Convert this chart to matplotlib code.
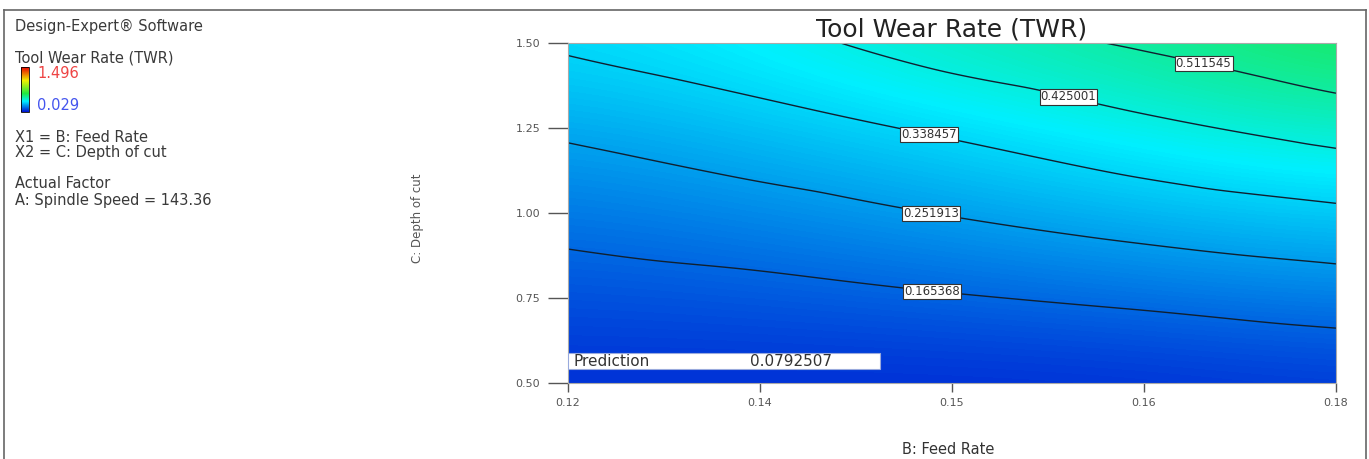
import numpy as np
import matplotlib
matplotlib.use("Agg")
from matplotlib import pyplot as plt
import matplotlib.tri as mtri
from matplotlib.colors import LinearSegmentedColormap, Normalize
from matplotlib.cm import ScalarMappable

plt.rcParams['font.family'] = ['DejaVu Sans']

# design space (B: feed rate, C: depth of cut) and TWR
feed_rate = [0.12, 0.135, 0.15, 0.165, 0.18]
depth_cut = [0.50, 0.75, 1.00, 1.25, 1.50]
twr = [
    [0.079, 0.074, 0.072, 0.076, 0.090],   # depth 0.50
    [0.129, 0.141, 0.160, 0.181, 0.206],   # depth 0.75
    [0.193, 0.221, 0.256, 0.293, 0.324],   # depth 1.00
    [0.266, 0.307, 0.352, 0.406, 0.456],   # depth 1.25
    [0.351, 0.398, 0.467, 0.523, 0.597],   # depth 1.50
]
contour_levels = [0.165368, 0.251913, 0.338457, 0.425001, 0.511545]
label_spots = [(0.1485, 0.785), (0.1485, 1.029), (0.1483, 1.247),
               (0.1592, 1.357), (0.1697, 1.447)]
twr_min, twr_max = 0.029, 1.496
prediction = 0.0792507
x_ticks = [0.12, 0.135, 0.15, 0.165, 0.18]
x_ticklabels = ['0.12', '0.14', '0.15', '0.16', '0.18']
y_ticks = [0.50, 0.75, 1.00, 1.25, 1.50]

# Design-Expert style colour ramp: blue -> cyan -> green -> yellow -> red
de_cmap = LinearSegmentedColormap.from_list(
    'de', [(0.0, '#0010d0'), (0.24, '#00f0ff'), (0.41, '#20e840'),
           (0.70, '#f0f000'), (1.0, '#e80000')])
norm = Normalize(twr_min, twr_max)

W, H = 1369, 459
fig = plt.figure(figsize=(W / 100, H / 100), dpi=100)

# frame around the whole graphic
def px_line(xs, ys):
    fig.add_artist(plt.Line2D([x / W for x in xs], [1 - y / H for y in ys],
                              color='#666666', lw=1.2))

px_line([4, 4], [459, 10])
px_line([4, 1366], [10, 10])
px_line([1366, 1366], [10, 459])

ax = fig.add_axes([568 / W, 1 - 383 / H, 768 / W, 340 / H])

dx = feed_rate[1] - feed_rate[0]
dy = depth_cut[1] - depth_cut[0]
Z = np.array(twr)

# colour field: image centred on the grid nodes, smoothed by imshow itself
ax.imshow(Z, origin='lower', aspect='auto', interpolation='bicubic',
          cmap=de_cmap, norm=norm,
          extent=[feed_rate[0] - dx / 2, feed_rate[-1] + dx / 2,
                  depth_cut[0] - dy / 2, depth_cut[-1] + dy / 2])

# contour lines: cubic fit in grid-step units, then back to data units
X, Y = np.meshgrid(feed_rate, depth_cut)
tri_n = mtri.Triangulation(X.ravel() / dx, Y.ravel() / dy)
interp = mtri.CubicTriInterpolator(tri_n, Z.ravel(), kind='geom')
tri_r, z_f = mtri.UniformTriRefiner(tri_n).refine_field(Z.ravel(), interp, subdiv=5)
tri_f = mtri.Triangulation(tri_r.x * dx, tri_r.y * dy, tri_r.triangles)
cs = ax.tricontour(tri_f, z_f, levels=contour_levels, colors='#102030',
                   linewidths=1.0)
labels = ax.clabel(cs, fontsize=8.5, inline=False, manual=label_spots,
                   fmt={lv: f'{lv:.6f}' for lv in contour_levels})
for t in labels:
    t.set_rotation(0)
    t.set_color('#333333')
    t.set_bbox(dict(facecolor='white', edgecolor='#333333', lw=0.8, pad=0.8))

ax.set_xlim(0.12, 0.18)
ax.set_ylim(0.5, 1.5)
ax.set_xticks(x_ticks)
ax.set_xticklabels(x_ticklabels)
ax.set_yticks(y_ticks)
ax.set_yticklabels([f'{v:.2f}' for v in y_ticks])
ax.tick_params(axis='y', length=14.5, width=1, pad=5.5, labelsize=8,
               colors='#555555', labelcolor='#555555')
ax.tick_params(axis='x', length=6.5, width=1, pad=4, labelsize=8,
               colors='#555555', labelcolor='#555555')
for s in ax.spines.values():
    s.set_color('#aaaaaa')
    s.set_linewidth(0.8)

ax.text(0.5, (383 - 29) / 340, 'Tool Wear Rate (TWR)', transform=ax.transAxes,
        fontsize=18, color='#222222', ha='center', va='center')
ax.set_xlabel('B: Feed Rate', fontsize=10.5, color='#333333')
ax.xaxis.set_label_coords((948 - 568) / 768, (383 - 450) / 340)
ax.xaxis.label.set_va('center')
ax.set_ylabel('C: Depth of cut', fontsize=8.5, color='#555555')
ax.yaxis.set_label_coords((418 - 568) / 768, (383 - 218) / 340)
ax.yaxis.label.set_va('center')

# prediction flag box
ax.add_patch(plt.Rectangle((0.12, 0.541), 0.02438, 0.047, facecolor='white',
                           edgecolor='#99aadd', lw=0.8, zorder=4))
ax.text(0.1204, 0.5645, 'Prediction', fontsize=11, color='#333333',
        va='center', ha='left', zorder=5)
ax.text(0.1342, 0.5645, f'{prediction}', fontsize=11, color='#333333',
        va='center', ha='left', zorder=5)

# left-hand legend text
def left_text(y_px, s, **kw):
    fig.text(15 / W, 1 - y_px / H, s, fontsize=10.5, color='#3a3a3a',
             va='center', ha='left', **kw)

left_text(26, 'Design-Expert® Software')
left_text(58, 'Tool Wear Rate (TWR)')
left_text(137, 'X1 = B: Feed Rate')
left_text(152, 'X2 = C: Depth of cut')
left_text(184, 'Actual Factor')
left_text(200, 'A: Spindle Speed = 143.36')
fig.text(37 / W, 1 - 74 / H, f'{twr_max:.3f}', fontsize=10.5, color='#ee4444',
         va='center', ha='left')
fig.text(37 / W, 1 - 106 / H, f'{twr_min:.3f}', fontsize=10.5, color='#4455ee',
         va='center', ha='left')

cax = fig.add_axes([21 / W, 1 - 112 / H, 8 / W, 45 / H])
cb = fig.colorbar(ScalarMappable(norm=norm, cmap=de_cmap), cax=cax)
cb.set_ticks([])
cb.outline.set_linewidth(0.6)

fig.savefig('out.png', dpi=100)
